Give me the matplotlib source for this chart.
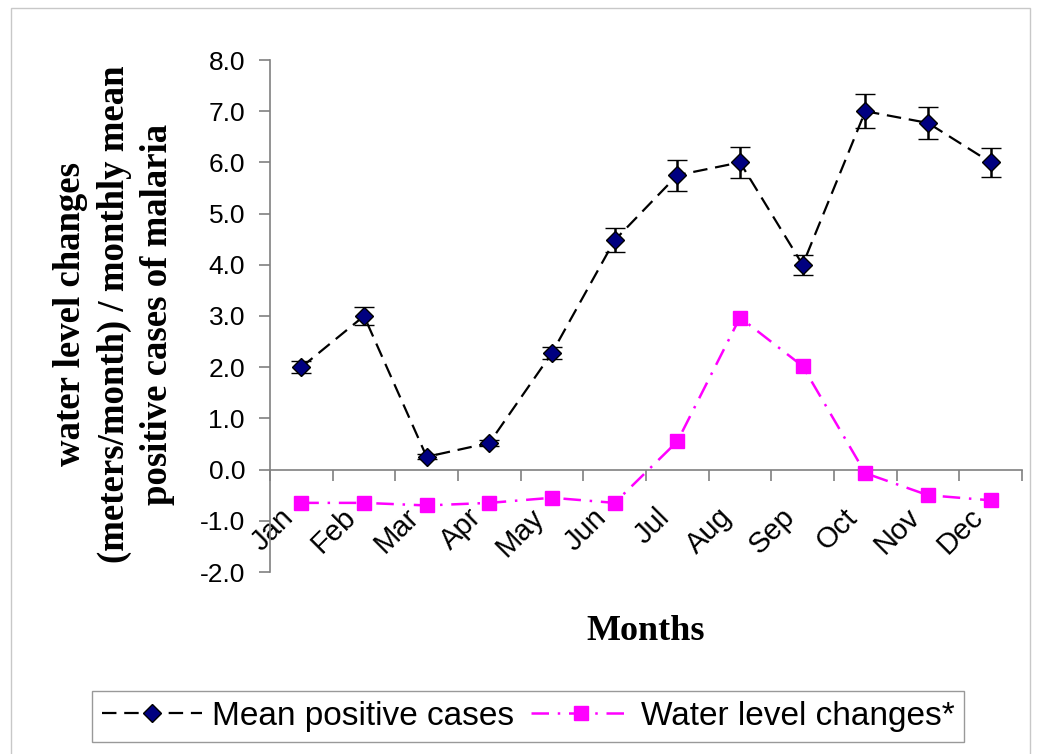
import matplotlib
matplotlib.use('Agg')
import matplotlib.pyplot as plt
from matplotlib.patches import Rectangle
from matplotlib.lines import Line2D
from matplotlib.transforms import ScaledTranslation

# Data
months = ['Jan', 'Feb', 'Mar', 'Apr', 'May', 'Jun', 'Jul', 'Aug', 'Sep', 'Oct', 'Nov', 'Dec']
mean_cases = [2.0, 3.0, 0.25, 0.52, 2.28, 4.48, 5.75, 6.0, 4.0, 7.0, 6.77, 6.0]
mean_err = [0.12, 0.17, 0.05, 0.05, 0.12, 0.23, 0.3, 0.3, 0.2, 0.33, 0.32, 0.28]
water_level = [-0.65, -0.65, -0.7, -0.65, -0.55, -0.65, 0.55, 2.97, 2.02, -0.07, -0.5, -0.6]
y_ticks = [-2.0, -1.0, 0.0, 1.0, 2.0, 3.0, 4.0, 5.0, 6.0, 7.0, 8.0]

W, H = 1039, 754
fig = plt.figure(figsize=(W / 100, H / 100), dpi=100)
ax = fig.add_axes([270 / W, 1 - 572 / H, (1022 - 270) / W, (572 - 60) / H])

x = [i + 0.5 for i in range(len(months))]

mean_style = dict(color='black', linestyle=(0, (6.5, 3.5)), linewidth=1.6,
                  marker='D', markersize=9, markerfacecolor='#000080', markeredgecolor='black',
                  markeredgewidth=1.0)
water_style = dict(color='#FF00FF', linestyle=(0, (7, 3.5, 1, 3.5)), linewidth=1.8,
                   marker='s', markersize=10, markerfacecolor='#FF00FF', markeredgecolor='#FF00FF')

# Mean positive cases with error bars
ax.errorbar(x, mean_cases, yerr=mean_err, ecolor='black', elinewidth=1.8, capsize=7,
            capthick=1.8, zorder=3, **mean_style)

# Water level changes
ax.plot(x, water_level, zorder=3, **water_style)

ax.set_xlim(0, 12)
ax.set_ylim(-2, 8)

# Axes styling (Excel look)
for side in ['top', 'right']:
    ax.spines[side].set_visible(False)
ax.spines['bottom'].set_position(('data', 0))
ax.spines['bottom'].set_color('#808080')
ax.spines['left'].set_color('#808080')
ax.spines['bottom'].set_linewidth(1.2)
ax.spines['left'].set_linewidth(1.2)

ax.set_yticks(y_ticks)
ax.set_yticklabels(['%.1f' % v for v in y_ticks], fontfamily='Liberation Sans', fontsize=19)
ax.tick_params(axis='y', direction='out', length=8, width=1.2, color='#808080', pad=10)

ax.set_xticks(range(13))
ax.set_xticklabels([''] * 13)
ax.tick_params(axis='x', which='major', direction='out', length=8, width=1.2, color='#808080')
ax.set_xticks(x, minor=True)
ax.set_xticklabels(months, minor=True, rotation=45, ha='right', rotation_mode='anchor',
                   fontfamily='Liberation Sans', fontsize=21)
ax.tick_params(axis='x', which='minor', length=0, pad=24)
shift = ScaledTranslation(-16 / 72, 0, fig.dpi_scale_trans)
for lbl in ax.get_xticklabels(minor=True):
    lbl.set_transform(lbl.get_transform() + shift)

# Axis titles
fig.text(114 / W, 1 - 314 / H, 'water level changes\n(meters/month) / monthly mean\npositive cases of malaria',
         rotation=90, ha='center', va='center', multialignment='center',
         fontfamily='Liberation Serif', fontweight='bold', fontsize=26.5, linespacing=1.3)
fig.text(646 / W, 1 - 631 / H, 'Months', ha='center', va='center',
         fontfamily='Liberation Serif', fontweight='bold', fontsize=26)

# Legend at the bottom
handles = [Line2D([], [], **mean_style), Line2D([], [], **water_style)]
labels = ['Mean positive cases', 'Water level changes*']
leg = fig.legend(handles, labels, loc='center', bbox_to_anchor=(528 / W, 1 - 716 / H), ncol=2,
                 prop={'family': 'Liberation Sans', 'size': 24}, frameon=True, fancybox=False,
                 edgecolor='#808080', handlelength=3.0, columnspacing=0.5, handletextpad=0.3,
                 borderpad=0.3, borderaxespad=0)
leg.get_frame().set_linewidth(1.0)

# Outer border
fig.patches.append(Rectangle((10.5 / W, -0.02), (1030 - 10.5) / W, 1 - 8 / H + 0.02,
                             transform=fig.transFigure, fill=False, edgecolor='#c8c8c8',
                             linewidth=1.0))

fig.savefig('out.png', dpi=100)
